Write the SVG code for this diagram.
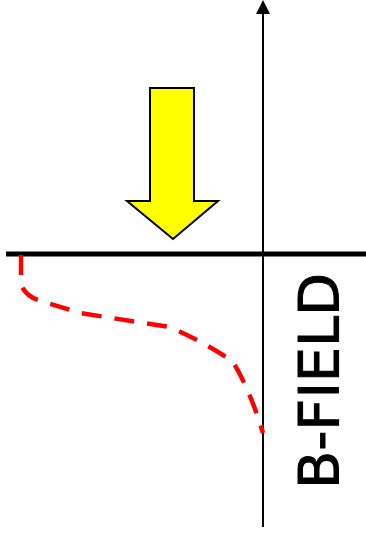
<svg xmlns="http://www.w3.org/2000/svg" width="366" height="536" viewBox="0 0 366 536">
<style>
.axis{stroke:#000;stroke-width:2;fill:none}
.base{stroke:#000;stroke-width:5;fill:none}
.curve{stroke:#f00;stroke-width:4.5;fill:none;stroke-dasharray:20 13}
.lbl{font-family:"DejaVu Sans",sans-serif;font-size:55px;fill:#000;stroke:#000;stroke-width:1}
</style>
<g id="connectors">
<line class="axis" x1="263" y1="527" x2="263" y2="14"/>
<path d="M256,14 L263,0 L270,14 Z" fill="#000"/>
<line class="base" x1="6" y1="254" x2="366" y2="254"/>
<path class="curve" d="M21,255 L21,285 Q26,296 38,300 L80,313 L170,327 Q210,345 233,362 Q250,390 263,433"/>
</g>
<g id="arrow">
<path d="M150,88 L194,88 L194,201 L218,201 L173,239 L127,201 L150,201 Z" fill="#ff0" stroke="#000" stroke-width="2"/>
</g>
<g id="label">
<text class="lbl" transform="translate(338,381) rotate(-90)" text-anchor="middle" textLength="216" lengthAdjust="spacingAndGlyphs">B-FIELD</text>
</g>
</svg>
